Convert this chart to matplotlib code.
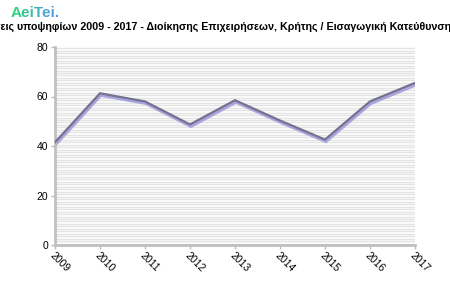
import matplotlib
matplotlib.use("Agg")
import matplotlib.pyplot as plt
import numpy as np
from matplotlib.patches import Rectangle
from matplotlib.transforms import IdentityTransform

years = ["2009", "2010", "2011", "2012", "2013", "2014", "2015", "2016", "2017"]
values = [41.5, 61.3, 58.0, 48.7, 58.5, 50.3, 42.6, 58.0, 65.5]
yticks = [0, 20, 40, 60, 80]
title = "Βάσεις υποψηφίων 2009 - 2017 - Διοίκησης Επιχειρήσεων, Κρήτης / Εισαγωγική Κατεύθυνση (ΓΕΛ)"
logo_text = "AeiTei."
logo_colors = ['#2fd17a', '#36c98a', '#3cc09a', '#44b3b8', '#4aa7cc', '#4f9fdc', '#5297e6']

plt.rcParams['font.family'] = ['Liberation Sans', 'DejaVu Sans']

fig = plt.figure(figsize=(4.5, 3.0), dpi=100)
W, H = 450, 300
ax = fig.add_axes([55 / W, 1 - 245 / H, (415 - 55) / W, (245 - 47) / H])

x = np.arange(len(years))
# striped background
for v in np.arange(0.5, 80, 1.0):
    ax.axhline(v, color='#e4e4e4', lw=1.0, zorder=0)

# shadow then main line
ax.plot(x + 0.02, np.array(values) - 0.8, color='#aaa6dd', lw=2.2, zorder=2, solid_joinstyle='miter')
ax.plot(x, values, color='#75728f', lw=1.6, zorder=3, solid_joinstyle='miter')

ax.set_xlim(0, len(years) - 1)
ax.set_ylim(0, 80)
ax.set_xticks(x)
ax.set_xticklabels(years, rotation=-45, ha='left', va='top', rotation_mode='anchor', fontsize=7.5)
ax.set_yticks(yticks)
ax.set_yticklabels([str(t) for t in yticks], fontsize=7.5)
ax.tick_params(axis='both', length=3, color='#bbbbbb', width=1, pad=2)
ax.tick_params(axis='x', pad=1)
for s in ['top', 'right']:
    ax.spines[s].set_visible(False)
for s in ['left', 'bottom']:
    ax.spines[s].set_color('#c0c0c0')
    ax.spines[s].set_linewidth(2)

fig.text(-21 / W, 1 - 30 / H, title, fontsize=7.65, fontweight='bold', ha='left', va='baseline')

# logo: same text drawn in several colour bands (clipped) for a green-to-blue gradient
x0, x1 = 11.0, 62.0
n = len(logo_colors)
edges = np.linspace(x0, x1, n + 1)
for i, c in enumerate(logo_colors):
    t = fig.text(x0 / W, 1 - 17 / H, logo_text, fontsize=11, fontweight='bold',
                 color=c, ha='left', va='baseline')
    left = edges[i] if i > 0 else 0
    right = edges[i + 1] if i < n - 1 else 120
    clip = Rectangle((left, H - 30), right - left, 30, transform=IdentityTransform())
    t.set_clip_path(clip)

fig.savefig("out.png", dpi=100)
